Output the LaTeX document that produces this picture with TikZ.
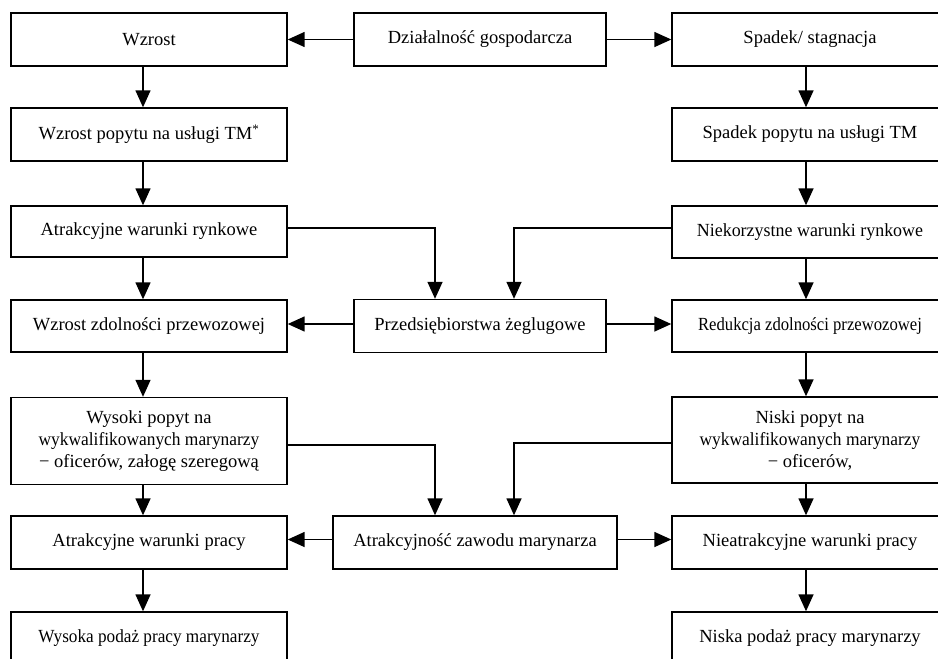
\documentclass[tikz,border=0pt]{standalone}
\usepackage{fontspec}
\usepackage{graphicx}
\setmainfont{Liberation Serif}
\usetikzlibrary{arrows.meta}
\newcommand{\cnd}[2]{\scalebox{#1}[1]{#2}}
\begin{document}
\begin{tikzpicture}[x=1pt,y=-1pt,
  box/.style={draw,line width=1.4pt,minimum width=276pt,align=center,inner sep=0pt,
    font=\fontsize{18.5}{22}\selectfont},
  arr/.style={line width=1.5pt,-{Triangle[length=17pt,width=15pt]}}]
\useasboundingbox (0,0) rectangle (938,659);
\clip (0,0) rectangle (938,659);
% left column
\node[box,minimum height=53pt] (wz)  at (149,39.5)  {Wzrost};
\node[box,minimum height=53pt] (wzp) at (149,134.5) {Wzrost popytu na usługi TM\textsuperscript{*}};
\node[box,minimum height=51pt] (atr) at (149,231.5) {Atrakcyjne warunki rynkowe};
\node[box,minimum height=52pt] (wzd) at (149,326)   {Wzrost zdolności przewozowej};
\node[box,minimum height=87pt] (wys) at (149,441)   {Wysoki popyt na\\\cnd{0.94}{wykwalifikowanych marynarzy}\\− oficerów, załogę szeregową};
\node[box,minimum height=53pt] (awp) at (149,542.5) {Atrakcyjne warunki pracy};
\node[box,minimum height=52pt] (wpp) at (149,638)   {\cnd{0.93}{Wysoka podaż pracy marynarzy}};
% centre column
\node[box,minimum width=252pt,minimum height=53pt] (dzi) at (480,39.5) {Działalność gospodarcza};
\node[box,minimum width=252pt,minimum height=53pt] (prz) at (480,326)  {Przedsiębiorstwa żeglugowe};
\node[box,minimum width=284pt,minimum height=53pt] (azm) at (475,542.5) {Atrakcyjność zawodu marynarza};
% right column
\node[box,minimum height=53pt] (sp)  at (810,39.5)  {Spadek/ stagnacja};
\node[box,minimum height=53pt] (spp) at (810,134.5) {Spadek popytu na usługi TM};
\node[box,minimum height=52pt] (nie) at (810,232)   {\cnd{0.97}{Niekorzystne warunki rynkowe}};
\node[box,minimum height=52pt] (red) at (810,326)   {\cnd{0.9}{Redukcja zdolności przewozowej}};
\node[box,minimum height=86pt] (nis) at (810,440)   {Niski popyt na\\\cnd{0.94}{wykwalifikowanych marynarzy}\\− oficerów,};
\node[box,minimum height=53pt] (nwp) at (810,542.5) {Nieatrakcyjne warunki pracy};
\node[box,minimum height=52pt] (npp) at (810,638)   {Niska podaż pracy marynarzy};
% horizontal arrows
\draw[arr] (dzi.west) -- (wz.east);
\draw[arr] (dzi.east) -- (sp.west);
\draw[arr] ([yshift=2pt]prz.west) -- ([yshift=2pt]wzd.east);
\draw[arr] ([yshift=2pt]prz.east) -- ([yshift=2pt]red.west);
\draw[arr] ([yshift=3pt]azm.west) -- ([yshift=3pt]awp.east);
\draw[arr] ([yshift=3pt]azm.east) -- ([yshift=3pt]nwp.west);
% vertical arrows, left
\draw[arr] ([xshift=-6pt]wz.south)  -- ([xshift=-6pt]wzp.north);
\draw[arr] ([xshift=-6pt]wzp.south) -- ([xshift=-6pt]atr.north);
\draw[arr] ([xshift=-6pt]atr.south) -- ([xshift=-6pt]wzd.north);
\draw[arr] ([xshift=-6pt]wzd.south) -- ([xshift=-6pt]wys.north);
\draw[arr] ([xshift=-6pt]wys.south) -- ([xshift=-6pt]awp.north);
\draw[arr] ([xshift=-6pt]awp.south) -- ([xshift=-6pt]wpp.north);
% vertical arrows, right
\draw[arr] ([xshift=-4pt]sp.south)  -- ([xshift=-4pt]spp.north);
\draw[arr] ([xshift=-4pt]spp.south) -- ([xshift=-4pt]nie.north);
\draw[arr] ([xshift=-4pt]nie.south) -- ([xshift=-4pt]red.north);
\draw[arr] ([xshift=-4pt]red.south) -- ([xshift=-4pt]nis.north);
\draw[arr] ([xshift=-4pt]nis.south) -- ([xshift=-4pt]nwp.north);
\draw[arr] ([xshift=-4pt]nwp.south) -- ([xshift=-4pt]npp.north);
% elbow arrows
\draw[arr] ([yshift=3.5pt]atr.east) -| ([xshift=-45pt]prz.north);
\draw[arr] ([yshift=4pt]nie.west)   -| ([xshift=34pt]prz.north);
\draw[arr] ([yshift=-4pt]wys.east)  -| ([xshift=-40pt]azm.north);
\draw[arr] ([yshift=-3pt]nis.west)  -| ([xshift=39pt]azm.north);
\end{tikzpicture}
\end{document}
